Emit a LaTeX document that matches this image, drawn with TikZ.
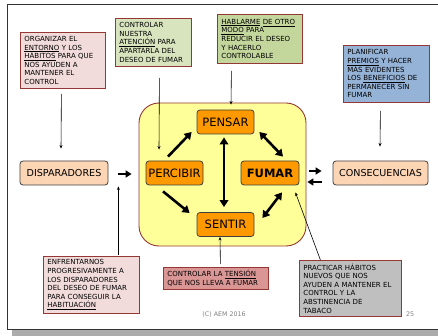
\documentclass[tikz,border=0pt]{standalone}
\usepackage{fontspec}
\setmainfont{DejaVu Sans}
\usetikzlibrary{arrows.meta,calc}
\definecolor{bord}{HTML}{953735}
\definecolor{pinkf}{HTML}{F2DCDB}
\definecolor{greenA}{HTML}{D7E4BD}
\definecolor{greenB}{HTML}{C3D69B}
\definecolor{bluef}{HTML}{95B3D7}
\definecolor{redf}{HTML}{D99694}
\definecolor{greyf}{HTML}{BFBFBF}
\definecolor{yelf}{HTML}{FFFF99}
\definecolor{orangef}{HTML}{FF9900}
\definecolor{peachf}{HTML}{FCD5B5}
\definecolor{nodeline}{HTML}{404040}
\tikzset{
  note/.style={draw=bord, line width=0.8pt, align=left, inner xsep=4pt, inner ysep=0pt,
    anchor=north west, font=\fontsize{7}{8.6}\selectfont},
  stage/.style={draw=nodeline, fill=orangef, rounded corners=3pt, line width=0.8pt,
    inner sep=0pt, minimum height=24pt, minimum width=57pt, font=\fontsize{11.5}{13}\selectfont},
  endbox/.style={draw=nodeline, fill=peachf, rounded corners=3pt, line width=0.8pt,
    inner sep=0pt, minimum height=24pt, font=\fontsize{9.6}{11}\selectfont},
  thinarrow/.style={line width=0.6pt, -{Stealth[length=3.5pt,width=3pt]}},
  fatarrow/.style={line width=2.6pt, -{Triangle[length=7pt,width=8.5pt]}},
  fatboth/.style={line width=2.6pt, {Triangle[length=7pt,width=8.5pt]}-{Triangle[length=7pt,width=8.5pt]}},
  shortarrow/.style={line width=2.2pt, -{Triangle[length=6pt,width=7pt]}},
}
\begin{document}
\begin{tikzpicture}[x=1pt,y=-1pt]
\useasboundingbox (0,0) rectangle (438,336);
\fill[white] (0,0) rectangle (438,336);
\begin{scope}
\clip (0,0) rectangle (438,336);
\fill[gray!65] (12,10) rectangle (460,336);
\draw[fill=white, line width=1pt, draw=black!80] (7,5) rectangle (460,329);
\end{scope}

% central zone
\node[draw=bord, fill=yelf, rounded corners=20pt, line width=0.9pt,
  minimum width=167pt, minimum height=143pt, inner sep=0pt] (zone) at (222.5,174.5) {};

% stages
\node[stage] (pensar) at (225.5,122) {PENSAR};
\node[stage] (percibir) at (174.5,173) {PERCIBIR};
\node[stage, minimum width=58pt, font=\fontsize{11.5}{13}\selectfont\bfseries] (fumar) at (270,173) {FUMAR};
\node[stage] (sentir) at (225.5,224.5) {SENTIR};

\node[endbox, minimum width=88pt] (disp) at (64,173) {DISPARADORES};
\node[endbox, minimum width=95pt] (consec) at (380.5,173) {CONSECUENCIAS};

% notes
\node[note, fill=pinkf, minimum height=56pt, text width=77pt] (org) at (20,32)
  {ORGANIZAR EL\\\underline{ENTORNO} Y LOS\\\underline{HÁBITOS} PARA QUE\\NOS AYUDEN A\\MANTENER EL\\CONTROL};
\node[note, fill=greenA, minimum height=48pt, text width=68pt] (ctrl) at (115,18)
  {CONTROLAR\\NUESTRA\\\underline{ATENCIÓN} PARA\\APARTARLA DEL\\DESEO DE FUMAR};
\node[note, fill=greenB, minimum height=49pt, text width=77pt] (habl) at (217,14)
  {\underline{HABLARME} \underline{DE OTRO}\\\underline{MODO} PARA\\REDUCIR EL DESEO\\Y HACERLO\\CONTROLABLE};
\node[note, fill=bluef, minimum height=57pt, text width=78pt] (plan) at (343,45)
  {PLANIFICAR\\\underline{PREMIOS} Y HACER\\MÁS EVIDENTES\\LOS \underline{BENEFICIOS} DE\\PERMANECER SIN\\FUMAR};
\node[note, fill=pinkf, minimum height=57pt, text width=88pt] (enfr) at (43,256)
  {ENFRENTARNOS\\PROGRESIVAMENTE A\\LOS DISPARADORES\\DEL DESEO DE FUMAR\\PARA CONSEGUIR LA\\\underline{HABITUACIÓN}};
\node[note, fill=redf, minimum height=22pt, text width=97pt] (tens) at (163,267)
  {CONTROLAR LA \underline{TENSIÓN}\\QUE NOS LLEVA A FUMAR};
\node[note, fill=greyf, minimum height=56pt, text width=94pt] (prac) at (299,260)
  {PRACTICAR HÁBITOS\\NUEVOS QUE NOS\\AYUDEN A MANTENER EL\\CONTROL Y LA\\ABSTINENCIA DE\\TABACO};

% thin arrows
\draw[thinarrow] ($(org.south)+(-1.5,5)$) -- ($(disp.north)+(-3,-12)$);
\draw[thinarrow] ($(ctrl.south)+(6,11)$) -- ($(percibir.north)+(-15.5,-11)$);
\draw[thinarrow] ($(habl.south)+(-28.5,7)$) -- ($(pensar.north)+(5.5,-5)$);
\draw[thinarrow] ($(plan.south)+(-6,8)$) -- ($(consec.north)+(-0.5,-14)$);
\draw[thinarrow] ($(enfr.north)+(27,-1)$) -- ($(disp.south east)+(10,1)$);
\draw[thinarrow] ($(tens.north)+(4.5,-3)$) -- ($(sentir.south)+(-5.5,0)$);
\draw[thinarrow] ($(prac.north)+(-30,0)$) -- ($(fumar.south east)+(-4,7)$);

% thick arrows
\draw[fatarrow] ($(percibir.north)+(-6.5,-4)$) -- ($(pensar.west)+(-5,10)$);
\draw[fatboth] ($(pensar.east)+(5,10)$) -- ($(fumar.north)+(13,-4)$);
\draw[fatboth] ($(pensar.south)+(-1.5,3)$) -- ($(sentir.north)+(-1.5,-5)$);
\draw[fatarrow] ($(percibir.south)+(-11.5,6)$) -- ($(sentir.west)+(-7,-11.5)$);
\draw[fatboth] ($(fumar.south)+(12,7)$) -- ($(sentir.east)+(8,-6.5)$);

\draw[shortarrow] ($(disp.east)+(10,1)$) -- ($(percibir.west)+(-14,1)$);
\draw[shortarrow] ($(fumar.east)+(10,-2)$) -- ($(consec.west)+(-11,-2)$);
\draw[shortarrow] ($(consec.west)+(-11,9)$) -- ($(fumar.east)+(8,9)$);

% footer
\node[font=\fontsize{6.3}{7}\selectfont, text=gray] (copy) at (224,315) {(C) AEM 2016};
\node[font=\fontsize{6.3}{7}\selectfont, text=gray] (pg) at (410,314) {25};
\end{tikzpicture}
\end{document}
